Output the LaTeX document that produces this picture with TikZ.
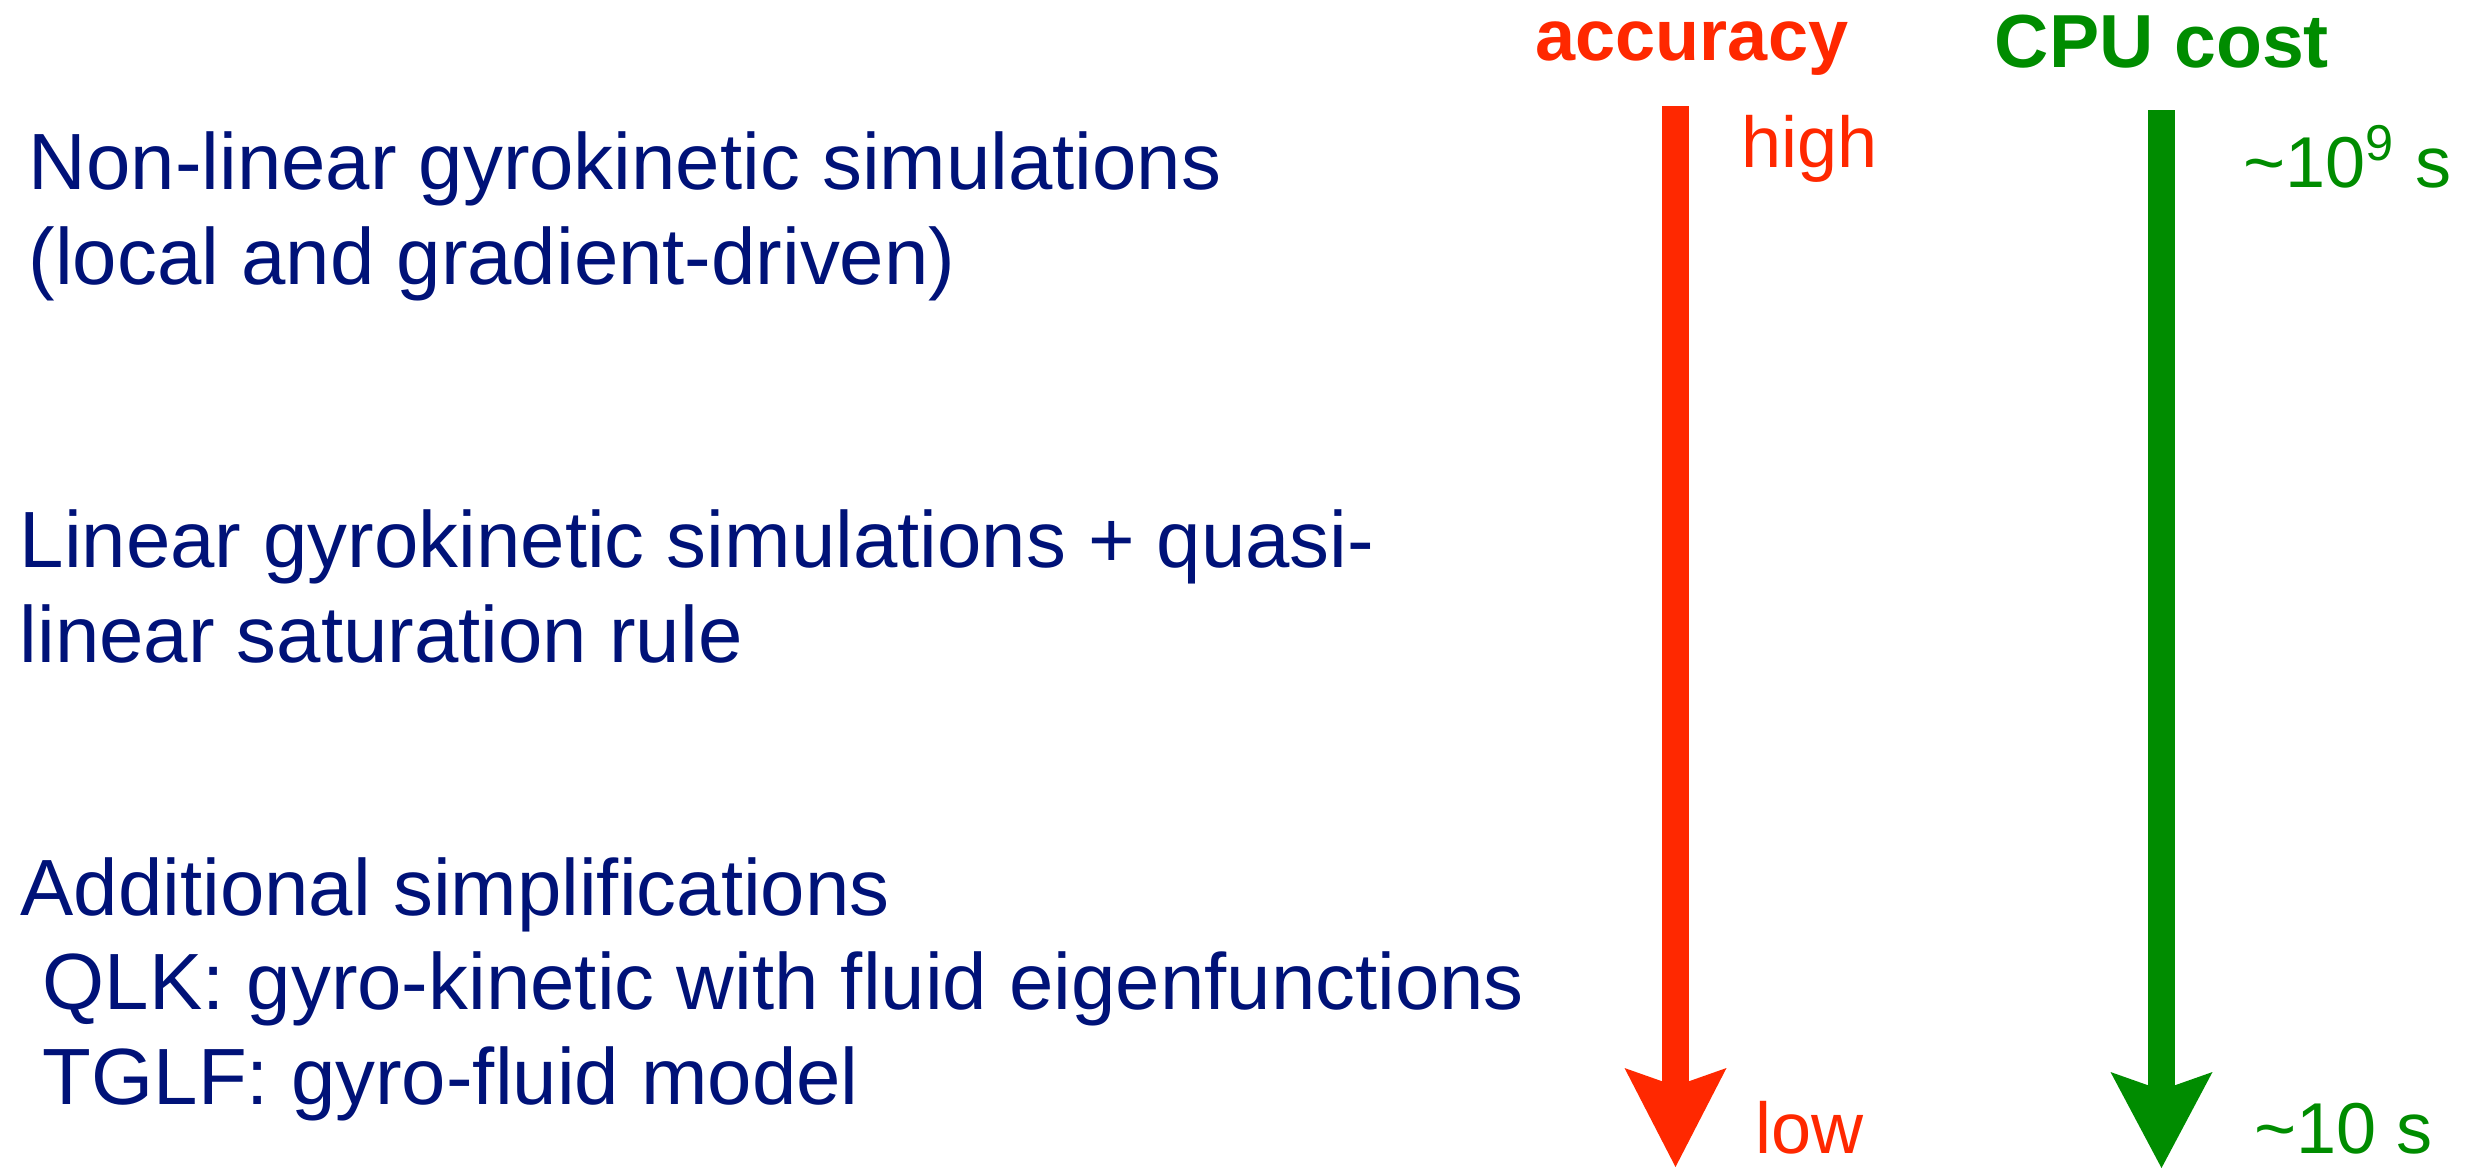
\documentclass[tikz,border=0pt]{standalone}
\usepackage{fontspec}
\setmainfont{Liberation Sans}
\usetikzlibrary{arrows.meta, positioning}

\definecolor{navytext}{RGB}{0,18,120}
\definecolor{accred}{RGB}{255,40,0}
\definecolor{cpugreen}{RGB}{0,140,0}

\begin{document}
\begin{tikzpicture}[
    desc/.style={anchor=base west, inner sep=0pt, align=left, text=navytext,
      font=\fontsize{22.7pt}{26.8pt}\selectfont},
    head/.style={anchor=base west, inner sep=0pt, font=\fontsize{#1}{24pt}\selectfont\bfseries},
    tag/.style={anchor=base west, inner sep=0pt, font=\fontsize{20.5pt}{24pt}\selectfont},
    trend/.style={line width=0.27cm,
      -{Stealth[length=#1, width=1.02cm, inset=0.18cm, line width=0pt]}}
  ]

    %% ═══════════════════════════════════════════════
    %% LAYOUT: 1 unit = 100 px of the slide
    %%   text column:     x = 0.2 … 13.8  (base = last line)
    %%   accuracy arrow:  x = 16.76
    %%   CPU cost arrow:  x = 21.62
    %% ═══════════════════════════════════════════════
    \useasboundingbox (0,0) rectangle (24.73,-11.68);

    %% ── model hierarchy (left column) ──
    \node[desc] (nonlin) at (0.28, -2.84)
      {Non-linear gyrokinetic simulations\\(local and gradient-driven)};
    \node[desc] (quasilin) at (0.19, -6.62)
      {Linear gyrokinetic simulations + quasi-\\linear saturation rule};
    \node[desc] (reduced) at (0.20, -11.04)
      {Additional simplifications\\\hspace*{0.278em}QLK: gyro-kinetic with fluid eigenfunctions\\\hspace*{0.278em}TGLF: gyro-fluid model};

    %% ── accuracy (red) ──
    \node[head=20.5pt, text=accred] (acc) at (15.35, -0.60) {accuracy};
    \coordinate (acctop) at (16.755, -1.06);
    \coordinate (accbot) at (16.755, -11.67);
    \node[tag, text=accred] (acchigh) at (17.41, -1.67) {high};
    \node[tag, text=accred] (acclow)  at (17.55, -11.53) {low};

    %% ── CPU cost (green) ──
    \node[head=21.4pt, text=cpugreen] (cpu) at (19.94, -0.67) {CPU cost};
    \coordinate (cputop) at (21.615, -1.10);
    \coordinate (cpubot) at (21.615, -11.68);
    \node[tag, text=cpugreen] (cpuhigh) at (22.43, -1.87) {\textasciitilde10\textsuperscript{9} s};
    \node[tag, text=cpugreen] (cpulow)  at (22.54, -11.53) {\textasciitilde10 s};

    %% ═══════ ARROWS ═══════
    \draw[trend=0.99cm, accred] (acctop) -- (accbot);
    \draw[trend=0.96cm, cpugreen] (cputop) -- (cpubot);

  \end{tikzpicture}
\end{document}
